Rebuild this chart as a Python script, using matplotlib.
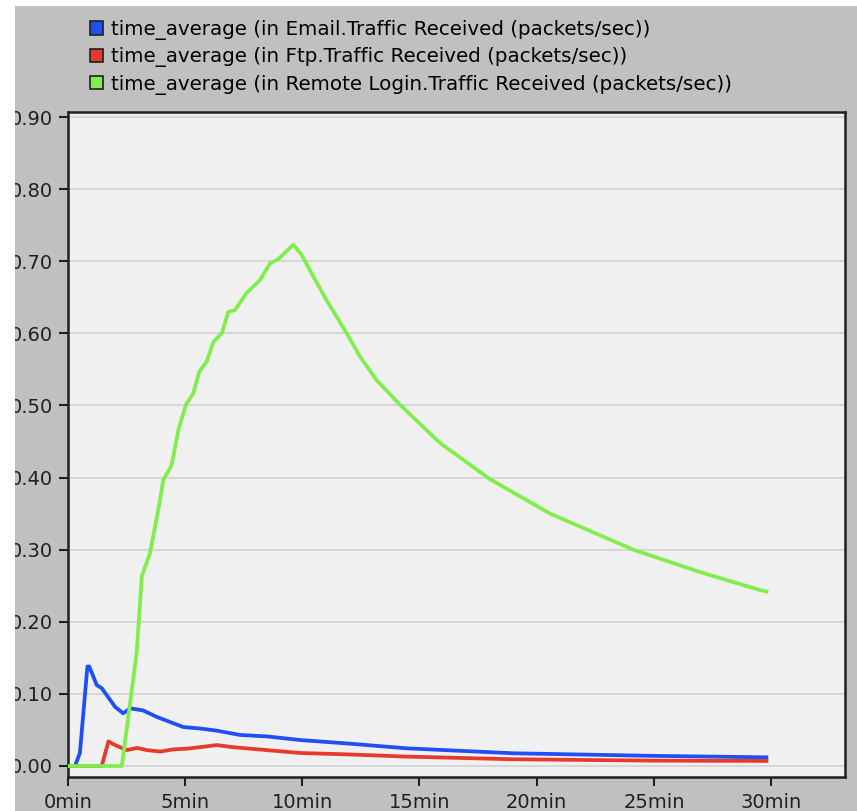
import matplotlib
matplotlib.use("Agg")
import matplotlib.pyplot as plt
from matplotlib.patches import Patch, Rectangle

# Data (time in minutes, packets/sec)
email_t = [0, 0.31, 0.52, 0.84, 0.92, 1.24, 1.45, 2.02, 2.37, 2.66, 3.22, 3.80, 4.93,
           5.64, 6.35, 7.35, 8.49, 9.91, 12.0, 14.45, 19.0, 25.0, 29.8]
email_v = [0, 0, 0.018, 0.138, 0.138, 0.112, 0.108, 0.082, 0.073, 0.080, 0.077, 0.068, 0.054,
           0.052, 0.049, 0.043, 0.041, 0.036, 0.031, 0.0245, 0.0176, 0.014, 0.012]

ftp_t = [0, 1.45, 1.74, 2.02, 2.52, 2.95, 3.38, 3.94, 4.51, 5.08, 5.64, 6.35, 7.06,
         8.49, 9.91, 12.0, 14.45, 19.0, 25.0, 29.8]
ftp_v = [0, 0, 0.034, 0.029, 0.022, 0.025, 0.022, 0.020, 0.023, 0.024, 0.026, 0.029, 0.026,
         0.022, 0.018, 0.016, 0.013, 0.0093, 0.0074, 0.007]

remote_t = [0, 2.31, 2.66, 2.94, 3.16, 3.51, 3.86, 4.08, 4.43, 4.72, 5.04, 5.36, 5.61,
            5.93, 6.21, 6.57, 6.85, 7.13, 7.63, 8.20, 8.63, 8.98, 9.62, 9.98, 10.47,
            11.04, 11.90, 12.46, 13.18, 14.17, 15.88, 18.0, 20.57, 24.12, 26.96, 29.52, 29.8]
remote_v = [0, 0, 0.087, 0.157, 0.263, 0.295, 0.355, 0.397, 0.417, 0.466, 0.501, 0.517, 0.547,
            0.561, 0.588, 0.600, 0.630, 0.632, 0.656, 0.674, 0.697, 0.703, 0.723, 0.709, 0.679,
            0.646, 0.600, 0.568, 0.535, 0.501, 0.448, 0.398, 0.350, 0.300, 0.269, 0.244, 0.242]

labels = ["time_average (in Email.Traffic Received (packets/sec))",
          "time_average (in Ftp.Traffic Received (packets/sec))",
          "time_average (in Remote Login.Traffic Received (packets/sec))"]
colors = ["#1f4ff5", "#e8392a", "#80ee4c"]

x_ticks = [0, 5, 10, 15, 20, 25, 30]
x_ticklabels = ["0min", "5min", "10min", "15min", "20min", "25min", "30min"]
y_ticks = [0.0, 0.1, 0.2, 0.3, 0.4, 0.5, 0.6, 0.7, 0.8, 0.9]

plt.rcParams['font.family'] = ['DejaVu Sans']

fig = plt.figure(figsize=(8.57, 8.11), dpi=100, facecolor="#c0c0c0")
ax = fig.add_axes([67.7 / 857, 34 / 811, (845 - 67.7) / 857, (777 - 112) / 811])
ax.set_facecolor("#f0f0f0")

for t, v, c in zip([email_t, ftp_t, remote_t], [email_v, ftp_v, remote_v], colors):
    ax.plot(t, v, color=c, lw=2.7, solid_joinstyle="round", zorder=3)

ax.set_xlim(0, 33.15)
ax.set_ylim(-0.0153, 0.907)
ax.set_xticks(x_ticks)
ax.set_xticklabels(x_ticklabels)
ax.set_yticks(y_ticks)
ax.set_yticklabels(["%.2f" % y for y in y_ticks])
ax.yaxis.grid(True, color="#d6d6d6", lw=1.4)
ax.set_axisbelow(True)

ax.tick_params(axis="both", direction="out", length=6.5, width=1.5, color="#202020",
               labelsize=14, labelcolor="#202020")
ax.tick_params(axis="x", pad=5)
ax.tick_params(axis="y", pad=4)
for s in ax.spines.values():
    s.set_color("#202020")
    s.set_linewidth(1.8)

# legend above the plot
handles = [Patch(facecolor=c, edgecolor="#202020", lw=1.2) for c in colors]
fig.legend(handles, labels, loc="upper left", bbox_to_anchor=(90 / 857, 1 - 20 / 811),
           frameon=False, fontsize=14.3, handlelength=0.66, handleheight=0.66,
           handletextpad=0.38, labelspacing=0.37, borderaxespad=0, borderpad=0)

# white strips at left/top edges, as in the cropped screenshot
fig.patches.append(Rectangle((0, 0), 15 / 857, 1, transform=fig.transFigure,
                             facecolor="white", edgecolor="none", zorder=10))
fig.patches.append(Rectangle((0, 1 - 6 / 811), 1, 6 / 811, transform=fig.transFigure,
                             facecolor="white", edgecolor="none", zorder=10))

fig.savefig("out.png", dpi=100, facecolor=fig.get_facecolor())
